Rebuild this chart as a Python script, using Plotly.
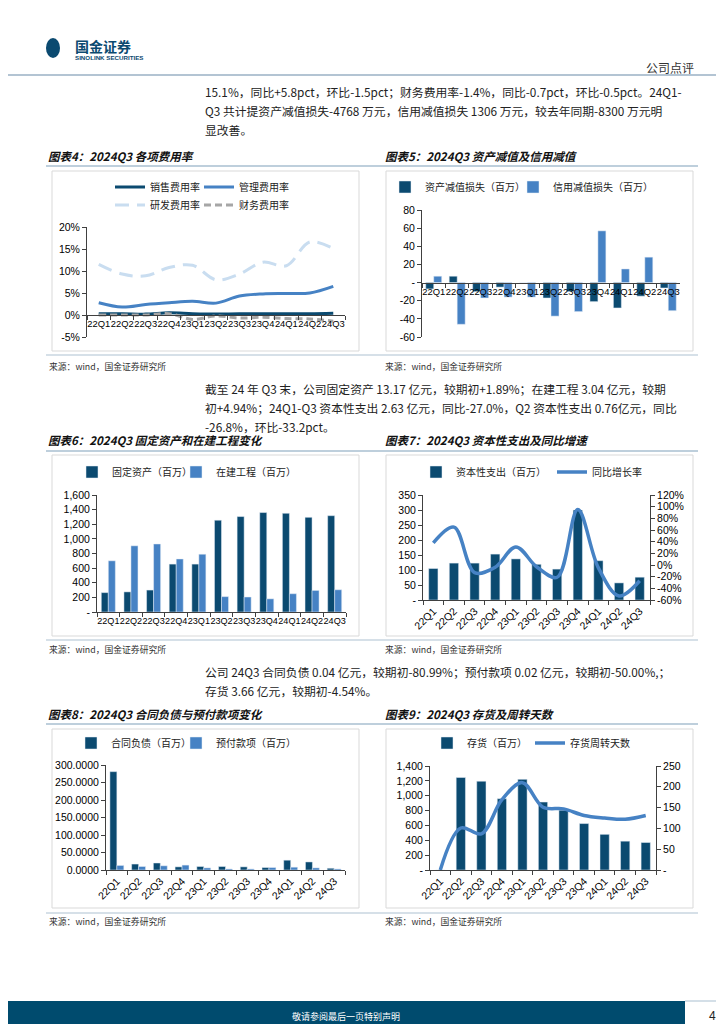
import plotly.graph_objects as go

# ---------------- data ----------------
quarters = ["22Q1", "22Q2", "22Q3", "22Q4", "23Q1", "23Q2", "23Q3", "23Q4", "24Q1", "24Q2", "24Q3"]

# 图表4 各项费用率 (%)
sales_rate = [0.3, 0.3, 0.2, 0.5, 0.3, 0.2, 0.3, 0.3, 0.3, 0.3, 0.4]
admin_rate = [2.8, 1.8, 2.4, 2.8, 3.1, 2.7, 4.3, 4.8, 4.9, 5.0, 6.5]
rd_rate = [11.5, 9.3, 8.9, 10.8, 11.3, 8.0, 9.3, 12.0, 11.2, 16.6, 15.1]
fin_rate = [0.0, 0.0, 0.0, 0.3, -1.0, -0.2, -0.7, -0.5, -0.8, -0.9, -1.4]

# 图表5 资产减值 / 信用减值 (百万)
asset_imp = [-7, 7, -10, -5, 0, -17, -10, -21, -28, -15, -6]
credit_imp = [7, -46, -17, -16, -16, -37, -32, 57, 15, 28, -31]

# 图表6 固定资产 / 在建工程 (百万)
fixed_assets = [265, 275, 300, 655, 655, 1255, 1305, 1360, 1350, 1295, 1317]
construction = [700, 905, 930, 725, 790, 210, 205, 180, 250, 295, 304]

# 图表7 资本性支出 (百万) / 同比增长率 (%)
capex = [105, 123, 123, 153, 137, 119, 103, 300, 131, 57, 76]
capex_yoy = [38, 65, -13, -4, 31, -3, -21, 95, -5, -53, -27]

# 图表8 合同负债 / 预付款项 (百万)
contract_liab = [281, 17, 20, 9, 10, 10, 9, 7, 28, 23, 5]
prepay = [13, 10, 12, 14, 6, 3, 3, 7, 8, 6, 3]

# 图表9 存货 (百万) / 存货周转天数
inventory = [0, 1245, 1195, 960, 1220, 915, 805, 625, 480, 388, 370]
turnover_days = [0, 101, 87, 169, 210, 151, 147, 131, 125, 122, 131]

# tick values
rate_ticks = [-5, 0, 5, 10, 15, 20]
imp_ticks = [-60, -40, -20, 0, 20, 40, 60, 80]
fa_ticks = [0, 200, 400, 600, 800, 1000, 1200, 1400, 1600]
capex_ticks = [0, 50, 100, 150, 200, 250, 300, 350]
yoy_ticks = [-60, -40, -20, 0, 20, 40, 60, 80, 100, 120]
cl_ticks = [0, 50, 100, 150, 200, 250, 300]
inv_ticks = [0, 200, 400, 600, 800, 1000, 1200, 1400]
days_ticks = [0, 50, 100, 150, 200, 250]

# ---------------- helpers ----------------
W, H = 724, 1024


def px(x):
    return x / W


def py(y):
    return 1 - y / H


def dash_text(vals):
    return ["-" if v == 0 else f"{v:,}" for v in vals]


CJK = "Noto Sans CJK SC"
NUMF = "Liberation Sans, Arial, Noto Sans CJK SC"
NAVY = "#0B4A70"
BLUE = "#4682C4"
LIGHT = "#C9DDF0"
GRAY = "#A6A6A6"
AXC = "#404040"

fig = go.Figure()
legend_layout = {}
legend_count = [0]


def next_legend(text_x, y):
    """one legend per entry, positioned so that its text starts at text_x"""
    legend_count[0] += 1
    key = "legend" if legend_count[0] == 1 else f"legend{legend_count[0]}"
    legend_layout[key] = dict(orientation="h", x=px(text_x - 45), y=py(y), xanchor="left",
                              yanchor="middle", bgcolor="rgba(0,0,0,0)", itemwidth=30,
                              font=dict(family=CJK, size=10, color="#222"))
    return key


# ---- 图表4 ----
fig.add_trace(go.Scatter(x=quarters, y=sales_rate, name="销售费用率", mode="lines",
                         line=dict(color=NAVY, width=3, shape="spline"),
                         xaxis="x", yaxis="y", legend=next_legend(147, 179)))
fig.add_trace(go.Scatter(x=quarters, y=admin_rate, name="管理费用率", mode="lines",
                         line=dict(color=BLUE, width=3, shape="spline"),
                         xaxis="x", yaxis="y", legend=next_legend(236, 179)))
fig.add_trace(go.Scatter(x=quarters, y=rd_rate, name="研发费用率", mode="lines",
                         line=dict(color=LIGHT, width=3, shape="spline", dash="14px,8px"),
                         xaxis="x", yaxis="y", legend=next_legend(147, 197)))
fig.add_trace(go.Scatter(x=quarters, y=fin_rate, name="财务费用率", mode="lines",
                         line=dict(color=GRAY, width=3, shape="spline", dash="7px,4px"),
                         xaxis="x", yaxis="y", legend=next_legend(236, 197)))

# ---- 图表5 ----
fig.add_trace(go.Bar(x=quarters, y=asset_imp, name="资产减值损失（百万）", marker_color=NAVY,
                     width=0.34, offset=-0.34, xaxis="x2", yaxis="y2", legend=next_legend(422, 179)))
fig.add_trace(go.Bar(x=quarters, y=credit_imp, name="信用减值损失（百万）", marker_color=BLUE,
                     width=0.34, offset=0.0, xaxis="x2", yaxis="y2", legend=next_legend(550, 179)))

# ---- 图表6 ----
fig.add_trace(go.Bar(x=quarters, y=fixed_assets, name="固定资产（百万）", marker_color=NAVY,
                     width=0.31, offset=-0.31, xaxis="x3", yaxis="y3", legend=next_legend(109, 464)))
fig.add_trace(go.Bar(x=quarters, y=construction, name="在建工程（百万）", marker_color=BLUE,
                     width=0.31, offset=0.0, xaxis="x3", yaxis="y3", legend=next_legend(213, 464)))

# ---- 图表7 ----
fig.add_trace(go.Bar(x=quarters, y=capex, name="资本性支出（百万）", marker_color=NAVY,
                     width=0.45, offset=-0.225, xaxis="x4", yaxis="y4", legend=next_legend(453, 464)))
fig.add_trace(go.Scatter(x=quarters, y=capex_yoy, name="同比增长率", mode="lines",
                         line=dict(color=BLUE, width=3.5, shape="spline"),
                         xaxis="x4", yaxis="y5", legend=next_legend(589, 464)))

# ---- 图表8 ----
fig.add_trace(go.Bar(x=quarters, y=contract_liab, name="合同负债（百万）", marker_color=NAVY,
                     width=0.32, offset=-0.32, xaxis="x5", yaxis="y6", legend=next_legend(108, 735)))
fig.add_trace(go.Bar(x=quarters, y=prepay, name="预付款项（百万）", marker_color=BLUE,
                     width=0.32, offset=0.0, xaxis="x5", yaxis="y6", legend=next_legend(213, 735)))

# ---- 图表9 ----
fig.add_trace(go.Bar(x=quarters, y=inventory, name="存货（百万）", marker_color=NAVY,
                     width=0.45, offset=-0.225, xaxis="x6", yaxis="y7", legend=next_legend(464, 735)))
fig.add_trace(go.Scatter(x=quarters, y=turnover_days, name="存货周转天数", mode="lines",
                         line=dict(color=BLUE, width=3.5, shape="spline"),
                         xaxis="x6", yaxis="y8", legend=next_legend(567, 735)))


# ---------------- axes ----------------
def ax(**kw):
    base = dict(showgrid=False, zeroline=False, showline=True, linecolor=AXC, linewidth=1,
                ticks="outside", ticklen=4, tickcolor=AXC, automargin=False,
                tickfont=dict(family=NUMF, size=10.5, color="#000"))
    base.update(kw)
    return base


def cat_ax(size=10.5, **kw):
    return ax(type="category", range=[-0.5, 10.5], tickson="boundaries",
              tickfont=dict(family=NUMF, size=size, color="#000"), **kw)


layout_axes = dict(
    xaxis=cat_ax(size=9.4, domain=[px(79), px(337)], anchor="free", position=py(307), tickangle=0),
    yaxis=ax(domain=[py(329), py(219)], anchor="x", range=[-5, 20],
             tickvals=rate_ticks, ticktext=[f"{v}%" for v in rate_ticks]),
    xaxis2=cat_ax(size=9.4, domain=[px(414), px(672)], anchor="free", position=py(275), tickangle=0),
    yaxis2=ax(domain=[py(329), py(202)], anchor="x2", range=[-60, 80],
              tickvals=imp_ticks, ticktext=dash_text(imp_ticks)),
    xaxis3=cat_ax(size=9.1, domain=[px(89), px(338)], anchor="y3", tickangle=0),
    yaxis3=ax(domain=[py(604), py(487)], anchor="x3", range=[0, 1600],
              tickvals=fa_ticks, ticktext=dash_text(fa_ticks)),
    xaxis4=cat_ax(domain=[px(415), px(642)], anchor="y4", tickangle=-45),
    yaxis4=ax(domain=[py(592), py(487)], anchor="x4", range=[0, 350],
              tickvals=capex_ticks, ticktext=dash_text(capex_ticks)),
    yaxis5=ax(overlaying="y4", side="right", anchor="x4", range=[-60, 120],
              tickvals=yoy_ticks, ticktext=[f"{v}%" for v in yoy_ticks]),
    xaxis5=cat_ax(domain=[px(98), px(337)], anchor="y6", tickangle=-45),
    yaxis6=ax(domain=[py(862), py(757)], anchor="x5", range=[0, 300],
              tickvals=cl_ticks, ticktext=[f"{v:.4f}" for v in cl_ticks]),
    xaxis6=cat_ax(domain=[px(422), px(648)], anchor="y7", tickangle=-45),
    yaxis7=ax(domain=[py(862), py(758)], anchor="x6", range=[0, 1400],
              tickvals=inv_ticks, ticktext=dash_text(inv_ticks)),
    yaxis8=ax(overlaying="y7", side="right", anchor="x6", range=[0, 250],
              tickvals=days_ticks, ticktext=dash_text(days_ticks)),
)

# ---------------- page decorations ----------------
shapes = []
ann = []


def line(x0, y0, x1, y1, color, width=1):
    shapes.append(dict(type="line", xref="paper", yref="paper", x0=px(x0), y0=py(y0),
                       x1=px(x1), y1=py(y1), line=dict(color=color, width=width)))


def rect(x0, y0, x1, y1, line_color=None, fill=None, width=1):
    shapes.append(dict(type="rect", xref="paper", yref="paper", x0=px(x0), y0=py(y0),
                       x1=px(x1), y1=py(y1), fillcolor=fill or "rgba(0,0,0,0)",
                       line=dict(color=line_color or "rgba(0,0,0,0)", width=width), layer="below"))


def text(x, y, s, size=12, color="#222", anchor="left", family=CJK, **kw):
    ann.append(dict(xref="paper", yref="paper", x=px(x), y=py(y), text=s, showarrow=False,
                    xanchor=anchor, yanchor="middle", font=dict(family=family, size=size, color=color), **kw))


# header
shapes.append(dict(type="circle", xref="paper", yref="paper", x0=px(38), y0=py(50), x1=px(52), y1=py(30),
                   fillcolor=NAVY, line=dict(width=0)))
rect(44.5, 35, 48.5, 45, fill="white")
text(65, 38, "<b>国金证券</b>", size=14, color=NAVY)
text(65, 49, "<b>SINOLINK SECURITIES</b>", size=6.2, color=NAVY, family=NUMF)
text(688, 59, "公司点评", size=12, color="#333", anchor="right")
line(0, 67, 724, 67, "#9AB0C4", 1.5)

PS = 11.8
# paragraph 1
text(195, 83, "15.1%，同比+5.8pct，环比-1.5pct；财务费用率-1.4%，同比-0.7pct，环比-0.5pct。24Q1-", size=PS)
text(195, 102, "Q3 共计提资产减值损失-4768 万元，信用减值损失 1306 万元，较去年同期-8300 万元明", size=PS)
text(195, 121, "显改善。", size=PS)

# section titles / frames / sources
sections = [
    (148, 158, 163, 343, 347, 358, "图表4：2024Q3 各项费用率", "图表5：2024Q3 资产减值及信用减值"),
    (432, 443, 447, 628, 632, 641, "图表6：2024Q3 固定资产和在建工程变化", "图表7：2024Q3 资本性支出及同比增速"),
    (706, 716, 721, 900, 905, 913, "图表8：2024Q3 合同负债与预付款项变化", "图表9：2024Q3 存货及周转天数"),
]
for ty, ly, by0, by1, sy, st, t1, t2 in sections:
    text(38, ty, f"<b><i>{t1}</i></b>", size=11.5, color="#111")
    text(375, ty, f"<b><i>{t2}</i></b>", size=11.5, color="#111")
    line(38, ly, 690, ly, "#A9BFD0", 1.5)
    rect(44, by0, 351, by1, line_color="#D9D9D9")
    rect(378, by0, 685, by1, line_color="#D9D9D9")
    line(38, sy, 690, sy, "#C9D6E0", 1.5)
    text(39, st, "来源：wind，国金证券研究所", size=8.8, color="#333")
    text(375, st, "来源：wind，国金证券研究所", size=8.8, color="#333")

# paragraph 2
text(195, 380, "截至 24 年 Q3 末，公司固定资产 13.17 亿元，较期初+1.89%；在建工程 3.04 亿元，较期", size=PS)
text(195, 399, "初+4.94%；24Q1-Q3 资本性支出 2.63 亿元，同比-27.0%，Q2 资本性支出 0.76亿元，同比", size=PS)
text(195, 418, "-26.8%，环比-33.2pct。", size=PS)

# paragraph 3
text(195, 663, "公司 24Q3 合同负债 0.04 亿元，较期初-80.99%；预付款项 0.02 亿元，较期初-50.00%,；", size=PS)
text(195, 682, "存货 3.66 亿元，较期初-4.54%。", size=PS)

# footer
rect(0, 993, 677, 1023, fill="#004B6E")
line(677, 993, 724, 993, "#A9BFD0", 1)
text(338, 1008, "敬请参阅最后一页特别声明", size=9, color="white", anchor="center")
text(704, 1008, "4", size=12, color="#222", anchor="center", family=NUMF)

fig.update_layout(
    width=W, height=H, margin=dict(l=0, r=0, t=0, b=0, autoexpand=False),
    paper_bgcolor="white", plot_bgcolor="white",
    barmode="overlay", showlegend=True,
    shapes=shapes, annotations=ann,
    **layout_axes, **legend_layout,
)

fig.write_html("out.html")
